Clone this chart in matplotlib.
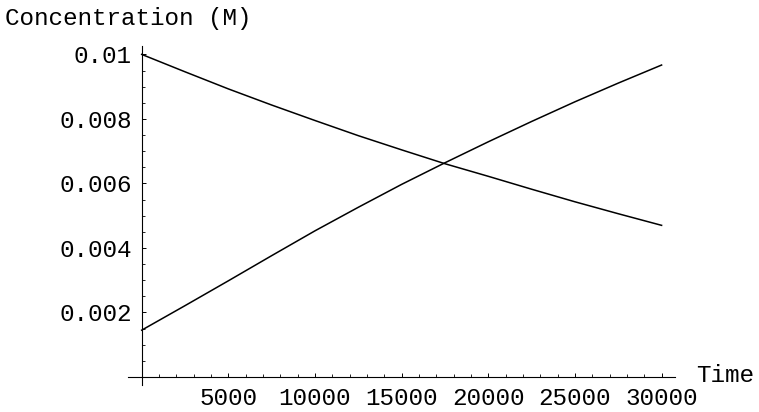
import matplotlib
matplotlib.use("Agg")
import matplotlib.pyplot as plt
from matplotlib.ticker import MultipleLocator

# Sampled concentrations (M) against time
time = [0, 2500, 5000, 7500, 10000, 12500, 15000, 17500, 20000, 22500, 25000, 27500, 30000]
reactant = [0.01000, 0.00946, 0.00893, 0.00843, 0.00795, 0.00748, 0.00704, 0.00661,
            0.00622, 0.00582, 0.00543, 0.00506, 0.00470]
product = [0.00145, 0.00221, 0.00298, 0.00376, 0.00453, 0.00526, 0.00597, 0.00664,
           0.00729, 0.00792, 0.00853, 0.00911, 0.00967]

x_ticks = [5000, 10000, 15000, 20000, 25000, 30000]
x_tick_labels = ["5000", "10000", "15000", "20000", "25000", "30000"]
y_ticks = [0.002, 0.004, 0.006, 0.008, 0.01]
y_tick_labels = ["0.002", "0.004", "0.006", "0.008", "0.01"]

W, H = 759, 412
fig = plt.figure(figsize=(W / 100, H / 100), dpi=100)
mono = "Liberation Mono"

# axes box in pixels: x range from 128 to 675, y from 46 to 385
left_px, right_px, top_px, bottom_px = 128, 675, 46, 385
ax = fig.add_axes([left_px / W, 1 - bottom_px / H,
                   (right_px - left_px) / W, (bottom_px - top_px) / H])
ax.set_xlim(-790, 30774)
ax.set_ylim(-0.00025, 0.01026)

ax.plot(time, reactant, color="black", lw=1.1)
ax.plot(time, product, color="black", lw=1.1)

for side in ("top", "right"):
    ax.spines[side].set_visible(False)
ax.spines["left"].set_position(("data", 0))
ax.spines["bottom"].set_position(("data", 0))
for side in ("left", "bottom"):
    ax.spines[side].set_linewidth(0.8)

ax.set_xticks(x_ticks, labels=x_tick_labels)
ax.set_yticks(y_ticks, labels=y_tick_labels)
ax.xaxis.set_minor_locator(MultipleLocator(1000))
ax.yaxis.set_minor_locator(MultipleLocator(0.0005))

ax.tick_params(which="major", direction="in", length=3.2, width=0.7, labelsize=17.5)
ax.tick_params(which="minor", direction="in", length=2.0, width=0.6)
ax.tick_params(axis="x", which="major", pad=7.5)
ax.tick_params(axis="y", which="major", pad=7)
for lab in ax.get_xticklabels() + ax.get_yticklabels():
    lab.set_fontfamily(mono)

fig.text(5 / W, 1 - 18 / H, "Concentration (M)", fontsize=17.5, family=mono,
         ha="left", va="center")
fig.text(696 / W, 1 - 376 / H, "Time", fontsize=17.5, family=mono,
         ha="left", va="center")

fig.savefig("out.png", dpi=100)
